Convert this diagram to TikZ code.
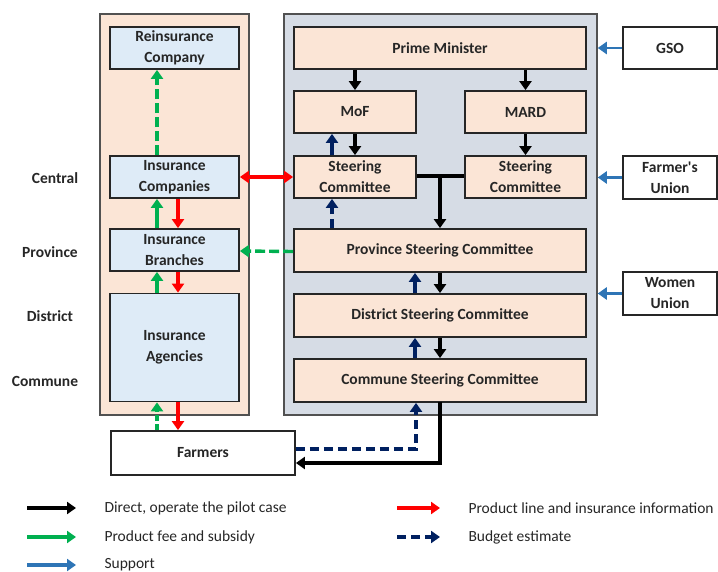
\documentclass[tikz,border=0pt]{standalone}
\usepackage{fontspec}
\setmainfont{Carlito}
\usetikzlibrary{arrows.meta,calc}

\definecolor{peach}{HTML}{FBE5D6}
\definecolor{paleblue}{HTML}{DEEBF7}
\definecolor{slate}{HTML}{D6DCE5}
\definecolor{fee}{HTML}{00B050}
\definecolor{info}{HTML}{FF0000}
\definecolor{budget}{HTML}{002060}
\definecolor{support}{HTML}{2E75B6}
\definecolor{ink}{HTML}{262626}

\tikzset{
  box/.style={draw=ink, line width=1.8pt, rectangle, inner sep=2pt, align=center,
    font=\fontsize{15.5}{21}\selectfont\bfseries, text=ink},
  bluebox/.style={box, fill=paleblue},
  peachbox/.style={box, fill=peach},
  whitebox/.style={box, fill=white},
  panel/.style={draw=ink!80, line width=1.5pt, rectangle, inner sep=0pt},
  tipA/.style={-{Triangle[length=9pt,width=12pt]}},
  flow/.style={line width=3.4pt, tipA},
  direct/.style={flow, draw=black},
  feeline/.style={flow, draw=fee},
  feedash/.style={feeline, dash pattern=on 10pt off 4pt},
  infoline/.style={flow, draw=info},
  budgetline/.style={flow, draw=budget, dash pattern=on 9pt off 5pt},
  supportline/.style={flow, draw=support},
  level/.style={font=\fontsize{15.5}{18}\selectfont\bfseries, text=ink},
  legtext/.style={anchor=west, font=\fontsize{15.5}{18}\selectfont, text=ink}
}

\begin{document}
\begin{tikzpicture}[x=1pt,y=-1pt]
\useasboundingbox (0,0) rectangle (718,572);

% background panels
\node[panel, fill=peach, minimum width=149pt, minimum height=401pt] (lpanel) at (174.5,214.5) {};
\node[panel, fill=slate, minimum width=313pt, minimum height=401pt] (rpanel) at (440.5,214.5) {};

% insurance side
\node[bluebox, minimum width=129pt, minimum height=42pt] (reins) at (174.5,48) {Reinsurance\\Company};
\node[bluebox, minimum width=129pt, minimum height=42pt] (icomp) at (174.5,177) {Insurance\\Companies};
\node[bluebox, minimum width=129pt, minimum height=42pt] (ibranch) at (174.5,250) {Insurance\\Branches};
\node[bluebox, minimum width=129pt, minimum height=108pt] (iagency) at (174.5,347.5) {Insurance\\Agencies};

% government side
\node[peachbox, minimum width=292pt, minimum height=42pt] (pm) at (440,48) {Prime Minister};
\node[peachbox, minimum width=122pt, minimum height=42pt] (mof) at (355,112) {MoF};
\node[peachbox, minimum width=121pt, minimum height=42pt] (mard) at (525.5,112) {MARD};
\node[peachbox, minimum width=122pt, minimum height=42pt] (scl) at (355,177) {Steering\\Committee};
\node[peachbox, minimum width=121pt, minimum height=42pt] (scr) at (525.5,177) {Steering\\Committee};
\node[peachbox, minimum width=292pt, minimum height=43pt] (prov) at (440,250.5) {Province Steering Committee};
\node[peachbox, minimum width=292pt, minimum height=43pt] (dist) at (440,315.5) {District Steering Committee};
\node[peachbox, minimum width=292pt, minimum height=43pt] (comm) at (440,380.5) {Commune Steering Committee};

% supporting organisations
\node[whitebox, minimum width=94pt, minimum height=42pt] (gso) at (670,48) {GSO};
\node[whitebox, minimum width=94pt, minimum height=43pt] (fu) at (670,177.5) {Farmer\textquotesingle s\\Union};
\node[whitebox, minimum width=94pt, minimum height=43pt] (wu) at (670,293.5) {Women\\Union};

\node[whitebox, minimum width=184pt, minimum height=44pt] (farmers) at (203,453) {Farmers};

% administrative levels
\node[level] (lvc) at (55,178) {Central};
\node[level] (lvp) at (50,252) {Province};
\node[level] (lvd) at (50,316) {District};
\node[level] (lvm) at (45,381) {Commune};

% direction chain
\draw[direct] (pm.south -| mof.north) -- (mof.north);
\draw[direct] (pm.south -| mard.north) -- (mard.north);
\draw[direct] (mof.south) -- (scl.north);
\draw[direct] (mard.south) -- (scr.north);
\draw[line width=3.4pt] ([yshift=1pt]scl.east) -- ([yshift=1pt]scr.west);
\draw[direct] ([yshift=2.7pt]prov.north |- scl.east) -- (prov.north);
\draw[direct] (prov.south) -- (dist.north);
\draw[direct] (dist.south) -- (comm.north);
\draw[direct] ([yshift=0.9pt]comm.south) |- ([yshift=-10pt]farmers.east);

% budget estimates
\draw[budgetline, solid] ([xshift=-23pt]scl.north) -- ([xshift=-23pt]mof.south);
\draw[budgetline] ([xshift=-23pt]scl.south |- prov.north) -- ([xshift=-23pt]scl.south);
\draw[budgetline, solid] ([xshift=-25pt]dist.north) -- ([xshift=-25pt]prov.south);
\draw[budgetline, solid] ([xshift=-25pt]comm.north) -- ([xshift=-25pt]dist.south);
\draw[budgetline] ([yshift=4pt]farmers.east) -| ([xshift=-24pt]comm.south);

% fees and subsidies
\draw[feedash] ([xshift=-17.5pt]icomp.north) -- ([xshift=-17.5pt]reins.south);
\draw[feeline] ([xshift=-17.5pt]ibranch.north) -- ([xshift=-17.5pt]icomp.south);
\draw[feeline] ([xshift=-17.5pt]iagency.north) -- ([xshift=-17.5pt]ibranch.south);
\draw[feedash, dash pattern=on 6pt off 3pt] ([xshift=-17.5pt]iagency.south |- farmers.north) -- ([xshift=-17.5pt]iagency.south);
\draw[feedash] ([yshift=-1pt]prov.west) -- ([yshift=-1pt]ibranch.east);

% product information
\draw[infoline] ([xshift=3.5pt]icomp.south) -- ([xshift=3.5pt]ibranch.north);
\draw[infoline] ([xshift=3.5pt]ibranch.south) -- ([xshift=3.5pt]iagency.north);
\draw[infoline] ([xshift=3.5pt]iagency.south) -- ([xshift=3.5pt]iagency.south |- farmers.north);
\draw[infoline, {Triangle[length=9pt,width=12pt]}-{Triangle[length=9pt,width=12pt]}] (icomp.east) -- (scl.west);

% support
\draw[supportline, line width=2.6pt] (gso.west) -- (gso.west -| rpanel.east);
\draw[supportline, line width=2.6pt] (fu.west) -- (fu.west -| rpanel.east);
\draw[supportline, line width=2.6pt] (wu.west) -- (wu.west -| rpanel.east);

% legend
\coordinate (k1a) at (27,508); \coordinate (k1b) at (76,508);
\coordinate (k2a) at (27,537); \coordinate (k2b) at (76,537);
\coordinate (k3a) at (27,565); \coordinate (k3b) at (76,565);
\coordinate (k4a) at (397,508); \coordinate (k4b) at (440,508);
\coordinate (k5a) at (397,537); \coordinate (k5b) at (440,537);
\draw[direct] (k1a) -- (k1b);
\draw[feeline] (k2a) -- (k2b);
\draw[supportline] (k3a) -- (k3b);
\draw[infoline] (k4a) -- (k4b);
\draw[budgetline] (k5a) -- (k5b);
\node[legtext] (t1) at (101,508) {Direct, operate the pilot case};
\node[legtext] (t2) at (101,537) {Product fee and subsidy};
\node[legtext] (t3) at (101,565) {Support};
\node[legtext] (t4) at (465,508) {Product line and insurance information};
\node[legtext] (t5) at (465,537) {Budget estimate};
\end{tikzpicture}
\end{document}
